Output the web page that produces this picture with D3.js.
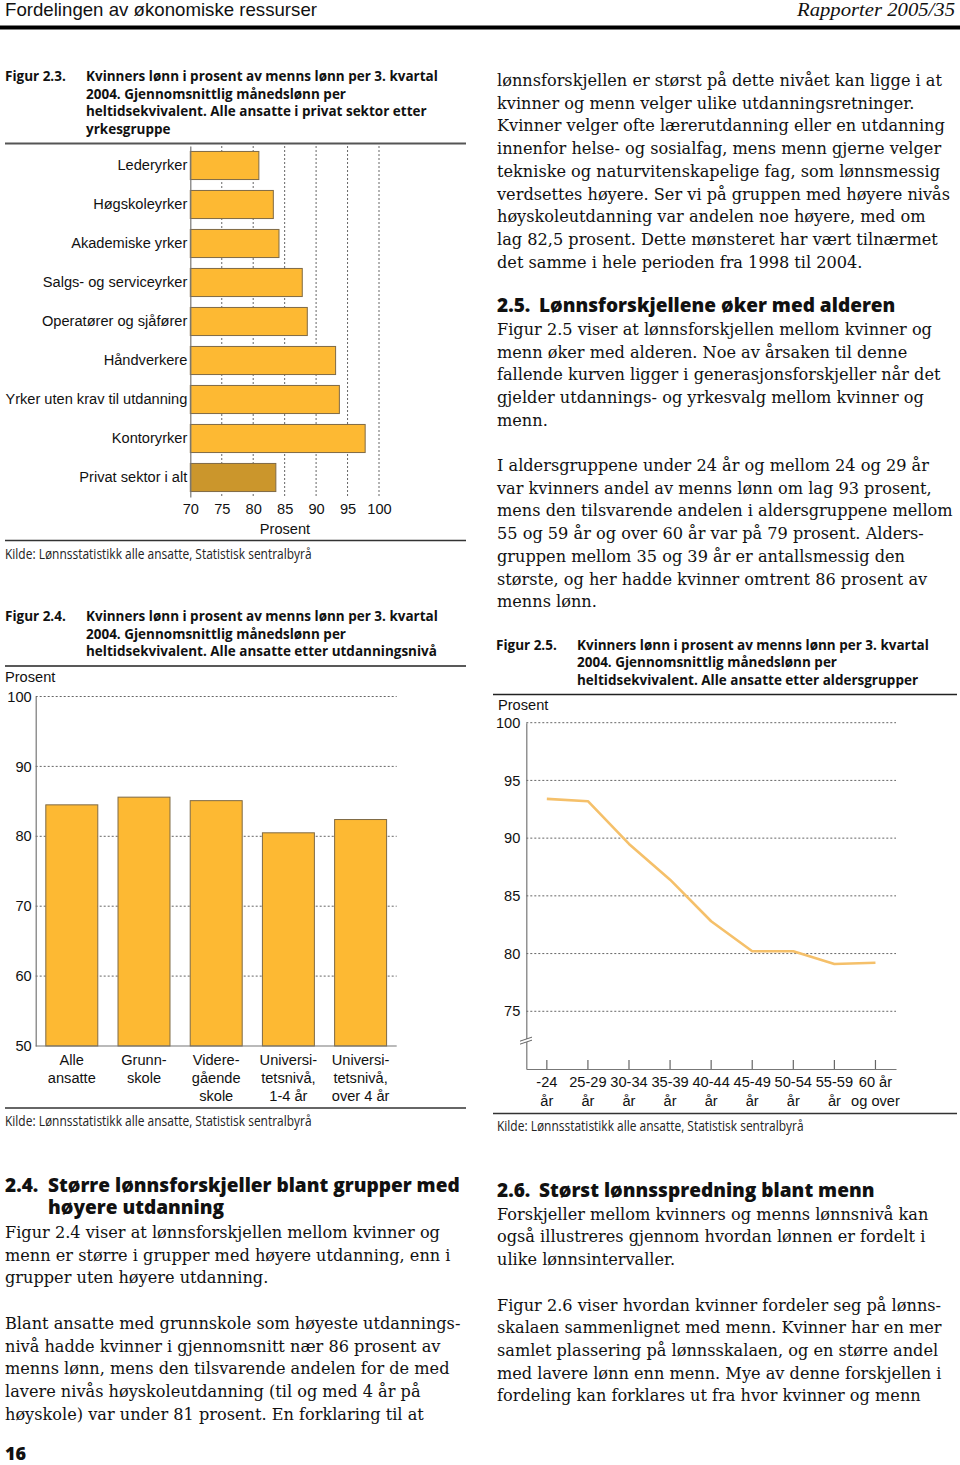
<!DOCTYPE html>
<html><head><meta charset="utf-8">
<script src="https://cdn.jsdelivr.net/npm/d3@7"></script>
<style>body{margin:0;background:#fff}svg{display:block}</style>
</head><body>
<svg id="page" width="960" height="1465"></svg>
<script>
// ---------- DATA ----------
const occCategories = ["Lederyrker","Høgskoleyrker","Akademiske yrker","Salgs- og serviceyrker","Operatører og sjåfører","Håndverkere","Yrker uten krav til utdanning","Kontoryrker","Privat sektor i alt"];
const occValues = [80.9, 83.2, 84.1, 87.8, 88.6, 93.1, 93.7, 97.8, 83.6];
const occTicks = [70, 75, 80, 85, 90, 95, 100];

const eduCategories = ["Alle\nansatte","Grunn-\nskole","Videre-\ngående\nskole","Universi-\ntetsnivå,\n1-4 år","Universi-\ntetsnivå,\nover 4 år"];
const eduValues = [84.5, 85.6, 85.1, 80.5, 82.4];
const eduTicks = [50, 60, 70, 80, 90, 100];

const ageCategories = ["-24\når","25-29\når","30-34\når","35-39\når","40-44\når","45-49\når","50-54\når","55-59\når","60 år\nog over"];
const ageValues = [93.4, 93.2, 89.5, 86.4, 82.8, 80.2, 80.2, 79.1, 79.2];
const ageTicks = [75, 80, 85, 90, 95, 100];

// ---------- SETUP ----------
const svg = d3.select("#page");
svg.append("rect").attr("width",960).attr("height",1465).attr("fill","#fff");

const SANS = "'Liberation Sans', Arial, sans-serif";
const FRUT = "'Open Sans', 'Noto Sans', sans-serif";
const SERIF = "'DejaVu Serif', serif";
const ORANGE = "#FDB933", DARKOR = "#CB962C", EDGE = "#7f6a45", LINEC = "#F5C06A";
const GRID = "#555";

function measure(text, fam, wt, size) {
  const t = svg.append("text").attr("font-family", fam).attr("font-weight", wt)
    .attr("font-size", size).text(text);
  const w = t.node().getComputedTextLength(); t.remove(); return w;
}
function fit(text, fam, wt, target) { return 100 * target / measure(text, fam, wt, 100); }

const axisSize = fit("Yrker uten krav til utdanning", SANS, 400, 182);
const bodySize = fit("mens den tilsvarende andelen i aldersgruppene mellom", SERIF, 400, 456);

// condensed-style text: fixed size, horizontal scale k
const TITLE_SIZE = 14.8;
const titleK = 352 / measure("Kvinners lønn i prosent av menns lønn per 3. kvartal", FRUT, 700, TITLE_SIZE);
const KILDE_SIZE = 13.6;
const kildeK = 307 / measure("Kilde: Lønnsstatistikk alle ansatte, Statistisk sentralbyrå", FRUT, 400, KILDE_SIZE);
const HEAD_SIZE = 19.5;
const headK = 412 / measure("Større lønnsforskjeller blant grupper med", FRUT, 800, HEAD_SIZE);

function txt(x, y, s, fam, size, wt, anchor, fill) {
  return svg.append("text").attr("x", x).attr("y", y).attr("font-family", fam)
    .attr("font-size", size).attr("font-weight", wt || 400).attr("text-anchor", anchor || "start")
    .attr("fill", fill || "#111").text(s);
}
function ctext(x, y, s, fam, size, wt, k, fill) {
  return svg.append("text").attr("transform", `translate(${x},${y}) scale(${k},1)`)
    .attr("font-family", fam).attr("font-size", size).attr("font-weight", wt)
    .attr("fill", fill || "#111").text(s);
}
function rule(x1, x2, y, w, c) {
  svg.append("line").attr("x1", x1).attr("x2", x2).attr("y1", y).attr("y2", y)
    .attr("stroke", c || "#222").attr("stroke-width", w);
}
function lines(x, y0, step, arr, fam, size, wt) {
  arr.forEach((s, i) => txt(x, y0 + i * step, s, fam, size, wt));
}
function title(xNum, xTxt, y0, num, arr) {
  ctext(xNum, y0, num, FRUT, TITLE_SIZE, 700, titleK);
  arr.forEach((s, i) => ctext(xTxt, y0 + i * 17.6, s, FRUT, TITLE_SIZE, 700, titleK));
}
function kilde(x, y) {
  ctext(x, y, "Kilde: Lønnsstatistikk alle ansatte, Statistisk sentralbyrå", FRUT, KILDE_SIZE, 400, kildeK, "#222");
}
function heading(xNum, xTxt, y, num, s) {
  ctext(xNum, y, num, FRUT, HEAD_SIZE, 800, headK);
  ctext(xTxt, y, s, FRUT, HEAD_SIZE, 800, headK);
}

// ---------- HEADER ----------
txt(5, 16, "Fordelingen av økonomiske ressurser", SANS, 19, 400).attr("textLength", 312).attr("lengthAdjust", "spacingAndGlyphs");
txt(955, 16, "Rapporter 2005/35", "'Liberation Serif', serif", 19, 400, "end").attr("font-style", "italic")
  .attr("textLength", 158).attr("lengthAdjust", "spacingAndGlyphs");
svg.append("rect").attr("x", 0).attr("y", 25.5).attr("width", 960).attr("height", 4).attr("fill", "#000");

// ---------- FIGURE 2.3 ----------
title(5, 86, 81, "Figur 2.3.", ["Kvinners lønn i prosent av menns lønn per 3. kvartal", "2004. Gjennomsnittlig månedslønn per", "heltidsekvivalent. Alle ansatte i privat sektor etter", "yrkesgruppe"]);
rule(5, 466, 143.5, 2, "#555");

const x3 = d3.scaleLinear().domain([70, 100]).range([190.3, 379]);
const y3 = d3.scaleBand().domain(occCategories).range([146, 497]).paddingInner(0.28).paddingOuter(0.14);
const g3 = svg.append("g");
g3.selectAll("line.grid").data(occTicks.slice(1)).join("line")
  .attr("x1", d => x3(d)).attr("x2", d => x3(d)).attr("y1", 146).attr("y2", 497)
  .attr("stroke", GRID).attr("stroke-width", 0.9).attr("stroke-dasharray", "2,2");
g3.selectAll("rect.bar").data(occCategories).join("rect")
  .attr("x", x3(70)).attr("y", d => y3(d))
  .attr("width", (d, i) => x3(occValues[i]) - x3(70)).attr("height", y3.bandwidth())
  .attr("fill", (d, i) => i === occCategories.length - 1 ? DARKOR : ORANGE)
  .attr("stroke", EDGE).attr("stroke-width", 1);
const ax3 = g3.append("g").attr("transform", `translate(${x3(70)},0)`)
  .call(d3.axisLeft(y3).tickSize(0).tickSizeOuter(0).tickPadding(3));
ax3.select(".domain").attr("stroke", "#777").attr("stroke-width", 1.2);
ax3.selectAll("text").attr("font-family", SANS).attr("font-size", axisSize).attr("fill", "#111");
const bx3 = g3.append("g").attr("transform", "translate(0,497)")
  .call(d3.axisBottom(x3).tickValues(occTicks).tickSize(0).tickPadding(7));
bx3.select(".domain").remove();
bx3.selectAll("text").attr("font-family", SANS).attr("font-size", axisSize).attr("fill", "#111");
txt(285, 534, "Prosent", SANS, axisSize, 400, "middle");
rule(5, 466, 540.5, 1.5, "#333");
kilde(5, 559);

// ---------- FIGURE 2.4 ----------
title(5, 86, 621, "Figur 2.4.", ["Kvinners lønn i prosent av menns lønn per 3. kvartal", "2004. Gjennomsnittlig månedslønn per", "heltidsekvivalent. Alle ansatte etter utdanningsnivå"]);
rule(5, 466, 666, 1.5, "#222");
txt(5, 682, "Prosent", SANS, axisSize, 400);

const x4 = d3.scaleBand().domain(eduCategories).range([35.7, 396.7]).paddingInner(0.28).paddingOuter(0.14);
const y4 = d3.scaleLinear().domain([50, 100]).range([1046, 696.5]);
const g4 = svg.append("g");
g4.selectAll("line.grid").data(eduTicks.slice(1)).join("line")
  .attr("x1", 35.7).attr("x2", 396.7).attr("y1", d => y4(d)).attr("y2", d => y4(d))
  .attr("stroke", GRID).attr("stroke-width", 0.9).attr("stroke-dasharray", "2,2");
g4.selectAll("rect.bar").data(eduCategories).join("rect")
  .attr("x", d => x4(d)).attr("width", x4.bandwidth())
  .attr("y", (d, i) => y4(eduValues[i])).attr("height", (d, i) => y4(50) - y4(eduValues[i]))
  .attr("fill", ORANGE).attr("stroke", EDGE).attr("stroke-width", 1);
const ay4 = g4.append("g").attr("transform", "translate(35.7,0)")
  .call(d3.axisLeft(y4).tickValues(eduTicks).tickSize(0).tickSizeOuter(0).tickPadding(4));
ay4.select(".domain").attr("stroke", "#777").attr("stroke-width", 1.2);
ay4.selectAll("text").attr("font-family", SANS).attr("font-size", axisSize).attr("fill", "#111");
g4.append("line").attr("x1", 35.7).attr("x2", 396.7).attr("y1", y4(50)).attr("y2", y4(50))
  .attr("stroke", "#777").attr("stroke-width", 1.2);
eduCategories.forEach(c => {
  const t = g4.append("text").attr("text-anchor", "middle").attr("font-family", SANS)
    .attr("font-size", axisSize).attr("fill", "#111");
  c.split("\n").forEach((s, i) => t.append("tspan").attr("x", x4(c) + x4.bandwidth() / 2)
    .attr("y", 1065 + i * 18).text(s));
});
rule(5, 466, 1108, 1.5, "#333");
kilde(5, 1126);

// ---------- FIGURE 2.5 ----------
title(496, 577, 649.5, "Figur 2.5.", ["Kvinners lønn i prosent av menns lønn per 3. kvartal", "2004. Gjennomsnittlig månedslønn per", "heltidsekvivalent. Alle ansatte etter aldersgrupper"]);
rule(493, 957, 694.5, 1.5, "#222");
txt(498, 710, "Prosent", SANS, axisSize, 400);

const x5 = d3.scaleBand().domain(ageCategories).range([526.3, 896]).padding(0);
const y5 = d3.scaleLinear().domain([70, 100]).range([1069, 722.7]);
const g5 = svg.append("g");
g5.selectAll("line.grid").data(ageTicks).join("line")
  .attr("x1", 526.3).attr("x2", 896).attr("y1", d => y5(d)).attr("y2", d => y5(d))
  .attr("stroke", GRID).attr("stroke-width", 0.9).attr("stroke-dasharray", "2,2");
const ay5 = g5.append("g").attr("transform", "translate(526.3,0)")
  .call(d3.axisLeft(y5).tickValues(ageTicks).tickSize(0).tickSizeOuter(0).tickPadding(6));
ay5.select(".domain").attr("stroke", "#777").attr("stroke-width", 1.2);
ay5.selectAll("text").attr("font-family", SANS).attr("font-size", axisSize).attr("fill", "#111");
const bx5 = g5.append("g").attr("transform", `translate(0,${y5(70)})`)
  .call(d3.axisBottom(x5).tickSize(-9).tickSizeOuter(0).tickFormat(""));
bx5.select(".domain").attr("stroke", "#777").attr("stroke-width", 1.2);
bx5.selectAll(".tick line").attr("stroke", "#666").attr("stroke-width", 1.2);
ageCategories.forEach(c => {
  const t = g5.append("text").attr("text-anchor", "middle").attr("font-family", SANS)
    .attr("font-size", axisSize).attr("fill", "#111");
  c.split("\n").forEach((s, i) => t.append("tspan").attr("x", x5(c) + x5.bandwidth() / 2)
    .attr("y", 1087 + i * 18.5).text(s));
});
// axis break
const by = y5(72.5);
g5.append("path").attr("d", `M520,${by + 1} L532,${by - 3} L532,${by} L520,${by + 4} Z`).attr("fill", "#fff");
g5.append("path").attr("d", `M520,${by + 1} L532,${by - 3} M520,${by + 4} L532,${by}`)
  .attr("stroke", "#666").attr("stroke-width", 1).attr("fill", "none");
const line5 = d3.line().x((d, i) => x5(ageCategories[i]) + x5.bandwidth() / 2).y(d => y5(d));
g5.append("path").datum(ageValues).attr("d", line5).attr("fill", "none")
  .attr("stroke", LINEC).attr("stroke-width", 2.6).attr("stroke-linejoin", "round");
rule(493, 957, 1113.5, 1.5, "#333");
kilde(497, 1131);

// ---------- BODY TEXT ----------
const LH = 22.7;
lines(497, 86, LH, [
  "lønnsforskjellen er størst på dette nivået kan ligge i at",
  "kvinner og menn velger ulike utdanningsretninger.",
  "Kvinner velger ofte lærerutdanning eller en utdanning",
  "innenfor helse- og sosialfag, mens menn gjerne velger",
  "tekniske og naturvitenskapelige fag, som lønnsmessig",
  "verdsettes høyere. Ser vi på gruppen med høyere nivås",
  "høyskoleutdanning var andelen noe høyere, med om",
  "lag 82,5 prosent. Dette mønsteret har vært tilnærmet",
  "det samme i hele perioden fra 1998 til 2004."], SERIF, bodySize);
heading(497, 539, 312, "2.5.", "Lønnsforskjellene øker med alderen");
lines(497, 335, LH, [
  "Figur 2.5 viser at lønnsforskjellen mellom kvinner og",
  "menn øker med alderen. Noe av årsaken til denne",
  "fallende kurven ligger i generasjonsforskjeller når det",
  "gjelder utdannings- og yrkesvalg mellom kvinner og",
  "menn."], SERIF, bodySize);
lines(497, 471, LH, [
  "I aldersgruppene under 24 år og mellom 24 og 29 år",
  "var kvinners andel av menns lønn om lag 93 prosent,",
  "mens den tilsvarende andelen i aldersgruppene mellom",
  "55 og 59 år og over 60 år var på 79 prosent. Alders-",
  "gruppen mellom 35 og 39 år er antallsmessig den",
  "største, og her hadde kvinner omtrent 86 prosent av",
  "menns lønn."], SERIF, bodySize);

heading(5, 48, 1191.5, "2.4.", "Større lønnsforskjeller blant grupper med");
ctext(48, 1214, "høyere utdanning", FRUT, HEAD_SIZE, 800, headK);
lines(5, 1238, LH, [
  "Figur 2.4 viser at lønnsforskjellen mellom kvinner og",
  "menn er større i grupper med høyere utdanning, enn i",
  "grupper uten høyere utdanning."], SERIF, bodySize);
lines(5, 1329, LH, [
  "Blant ansatte med grunnskole som høyeste utdannings-",
  "nivå hadde kvinner i gjennomsnitt nær 86 prosent av",
  "menns lønn, mens den tilsvarende andelen for de med",
  "lavere nivås høyskoleutdanning (til og med 4 år på",
  "høyskole) var under 81 prosent. En forklaring til at"], SERIF, bodySize);
ctext(5, 1459.5, "16", FRUT, 18, 800, 1);

heading(497, 539, 1197, "2.6.", "Størst lønnsspredning blant menn");
lines(497, 1219.5, LH, [
  "Forskjeller mellom kvinners og menns lønnsnivå kan",
  "også illustreres gjennom hvordan lønnen er fordelt i",
  "ulike lønnsintervaller."], SERIF, bodySize);
lines(497, 1310.5, LH, [
  "Figur 2.6 viser hvordan kvinner fordeler seg på lønns-",
  "skalaen sammenlignet med menn. Kvinner har en mer",
  "samlet plassering på lønnsskalaen, og en større andel",
  "med lavere lønn enn menn. Mye av denne forskjellen i",
  "fordeling kan forklares ut fra hvor kvinner og menn"], SERIF, bodySize);
</script>
</body></html>
